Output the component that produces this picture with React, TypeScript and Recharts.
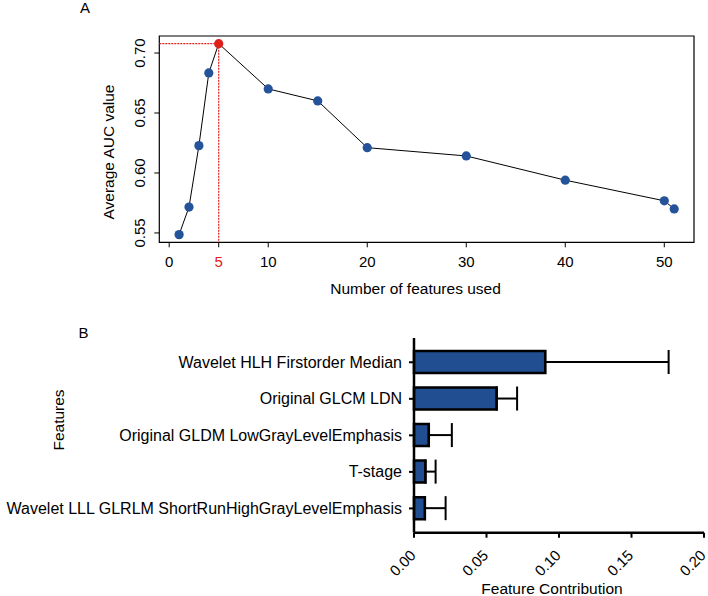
import React from 'react';
import {
  LineChart, Line, XAxis, YAxis, ReferenceArea, ReferenceLine,
  BarChart, Bar, ErrorBar,
} from 'recharts';

// ---------- Panel A data ----------
const featureCounts = [1, 2, 3, 4, 5, 10, 15, 20, 30, 40, 50, 51];
const aucValues = [0.5486, 0.5716, 0.6228, 0.6834, 0.7078, 0.6701, 0.6601, 0.6211, 0.6142, 0.594, 0.5768, 0.570];
const countTicks = [0, 5, 10, 20, 30, 40, 50];
const aucTicks = [0.55, 0.6, 0.65, 0.7];

// ---------- Panel B data ----------
const featureNames = [
  'Wavelet HLH Firstorder Median',
  'Original GLCM LDN',
  'Original GLDM LowGrayLevelEmphasis',
  'T-stage',
  'Wavelet LLL GLRLM ShortRunHighGrayLevelEmphasis',
];
const contributions = [0.0905, 0.057, 0.0102, 0.0079, 0.0075];
const contributionSD = [0.0851, 0.0141, 0.0159, 0.007, 0.0143];
const contribTicks = [0, 0.05, 0.1, 0.15, 0.2];

const FONT = '"Liberation Sans", Arial, Helvetica, sans-serif';
const BLUE_DOT = '#24539a';
const RED = '#e0201b';
const BAR_BLUE = '#214e90';

const lineData = featureCounts.map((n, i) => ({ n, auc: aucValues[i] }));
const bestIdx = aucValues.indexOf(Math.max(...aucValues));
const bestN = featureCounts[bestIdx];
const bestAuc = aucValues[bestIdx];

const xMin = -1;
const xMax = 53;
const yMin = 0.5422;
const yMax = 0.7142;

const barData = featureNames.map((name, i) => ({
  name,
  value: contributions[i],
  err: [0, contributionSD[i]],
}));

const AXTick = (props: any) => {
  const { x, y, payload } = props;
  const isBest = payload.value === bestN;
  return (
    <text x={x} y={y + 17.4} textAnchor="middle" fontSize={15} fontFamily={FONT} fill={isBest ? RED : '#000'}>
      {payload.value}
    </text>
  );
};

const AYTick = (props: any) => {
  const { x, y, payload } = props;
  return (
    <g transform={`translate(${x - 7},${y}) rotate(-90)`}>
      <text x={0} y={0} textAnchor="middle" fontSize={15} fontFamily={FONT} fill="#000">
        {Number(payload.value).toFixed(2)}
      </text>
    </g>
  );
};

const renderDot = (props: any) => {
  const { cx, cy, payload, index } = props;
  const isBest = payload.n === bestN;
  return (
    <circle key={`dot-${index}`} cx={cx} cy={cy} r={4.6} fill={isBest ? RED : BLUE_DOT} stroke="none" />
  );
};

const BXTick = (props: any) => {
  const { x, y, payload } = props;
  return (
    <g transform={`translate(${x - 1},${y + 13}) rotate(-45)`}>
      <text x={0} y={0} dy="0.35em" textAnchor="end" fontSize={15} fontFamily={FONT} fill="#000">
        {Number(payload.value).toFixed(2)}
      </text>
    </g>
  );
};

const BYTick = (props: any) => {
  const { x, y, payload } = props;
  return (
    <text x={x} y={y} dy="0.35em" textAnchor="end" fontSize={16} fontFamily={FONT} fill="#000">
      {payload.value}
    </text>
  );
};

export default function App() {
  return (
    <div style={{ position: 'absolute', left: 0, top: 0, width: 708, height: 596, background: '#fff', overflow: 'hidden' }}>
      <div style={{ position: 'absolute', left: 0, top: 0 }}>
        <LineChart
          width={708}
          height={300}
          data={lineData}
          margin={{ top: 36, right: 14, bottom: 17.7, left: 99.3 }}
        >
          <XAxis
            dataKey="n"
            type="number"
            domain={[xMin, xMax]}
            ticks={countTicks}
            allowDataOverflow
            axisLine={false}
            tickLine={{ stroke: '#000', strokeWidth: 1 }}
            tickSize={5}
            tickMargin={2}
            height={40}
            tick={<AXTick />}
            interval={0}
          />
          <YAxis
            type="number"
            domain={[yMin, yMax]}
            ticks={aucTicks}
            allowDataOverflow
            axisLine={false}
            tickLine={{ stroke: '#000', strokeWidth: 1 }}
            tickSize={5}
            tickMargin={2}
            width={60}
            tick={<AYTick />}
            interval={0}
          />
          <ReferenceArea
            x1={xMin}
            x2={xMax}
            y1={yMin}
            y2={yMax}
            fill="none"
            stroke="#000"
            strokeWidth={1.2}
            ifOverflow="visible"
          />
          <ReferenceLine
            segment={[{ x: xMin, y: bestAuc }, { x: bestN, y: bestAuc }]}
            stroke={RED}
            strokeWidth={1.2}
            strokeDasharray="2 1"
            ifOverflow="visible"
          />
          <ReferenceLine
            segment={[{ x: bestN, y: bestAuc }, { x: bestN, y: yMin }]}
            stroke={RED}
            strokeWidth={1.2}
            strokeDasharray="2 1"
            ifOverflow="visible"
          />
          <Line
            type="linear"
            dataKey="auc"
            stroke="#000"
            strokeWidth={1}
            dot={renderDot}
            activeDot={false}
            isAnimationActive={false}
          />
        </LineChart>
      </div>

      <div style={{ position: 'absolute', left: 0, top: 300 }}>
        <BarChart
          width={708}
          height={296}
          data={barData}
          layout="vertical"
          margin={{ top: 38, right: 4, bottom: 23.3, left: 0 }}
          barSize={22}
        >
          <XAxis
            type="number"
            domain={[0, 0.2]}
            ticks={contribTicks}
            axisLine={{ stroke: '#000', strokeWidth: 2.5 }}
            tickLine={{ stroke: '#000', strokeWidth: 2 }}
            tickSize={5}
            tickMargin={2}
            height={40}
            tick={<BXTick />}
            interval={0}
          />
          <YAxis
            type="category"
            dataKey="name"
            width={414}
            axisLine={{ stroke: '#000', strokeWidth: 2.5 }}
            tickLine={{ stroke: '#000', strokeWidth: 2 }}
            tickSize={5}
            tickMargin={7}
            tick={<BYTick />}
            interval={0}
            padding={{ top: 6, bottom: 6 }}
          />
          <Bar dataKey="value" fill={BAR_BLUE} stroke="#000" strokeWidth={2.5} isAnimationActive={false}>
            <ErrorBar dataKey="err" direction="x" width={12} stroke="#000" strokeWidth={2} />
          </Bar>
        </BarChart>
      </div>

      <svg
        width={708}
        height={596}
        style={{ position: 'absolute', left: 0, top: 0, pointerEvents: 'none' }}
        fontFamily={FONT}
      >
        <text x={85} y={12.5} textAnchor="middle" fontSize={15} fill="#000">A</text>
        <text transform="translate(113.5,152) rotate(-90)" textAnchor="middle" fontSize={15.5} fill="#000">
          Average AUC value
        </text>
        <text x={415.5} y={293.5} textAnchor="middle" fontSize={15.5} fill="#000">Number of features used</text>
        <text x={83.5} y={337.5} textAnchor="middle" fontSize={15} fill="#000">B</text>
        <text transform="translate(63.5,420) rotate(-90)" textAnchor="middle" fontSize={15.5} fill="#000">
          Features
        </text>
        <text x={552} y={593.5} textAnchor="middle" fontSize={15.5} fill="#000">Feature Contribution</text>
      </svg>
    </div>
  );
}
